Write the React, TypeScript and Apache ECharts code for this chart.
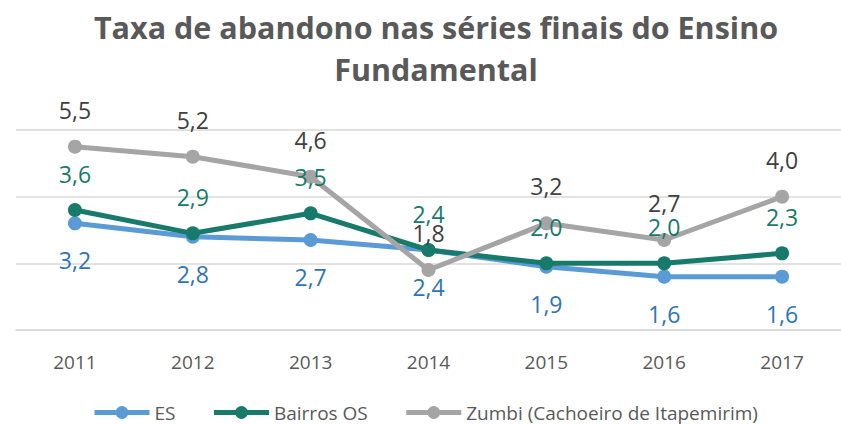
import React, { useEffect, useRef } from "react";
import * as echarts from "echarts";

const categories = ["2011", "2012", "2013", "2014", "2015", "2016", "2017"];
const esValues = [3.2, 2.8, 2.7, 2.4, 1.9, 1.6, 1.6];
const bairrosValues = [3.6, 2.9, 3.5, 2.4, 2.0, 2.0, 2.3];
const zumbiValues = [5.5, 5.2, 4.6, 1.8, 3.2, 2.7, 4.0];
const seriesNames = ["ES", "Bairros OS", "Zumbi (Cachoeiro de Itapemirim)"];
const titleText = "Taxa de abandono nas séries finais do Ensino\nFundamental";

const FONT = "'Open Sans', 'Noto Sans', sans-serif";

const fmt = (p: any) => Number(p.value).toFixed(1).replace(".", ",");

export default function App() {
  const ref = useRef<HTMLDivElement>(null);
  useEffect(() => {
    if (!ref.current) return;
    const chart = echarts.init(ref.current, undefined, { renderer: "svg" });
    const lineSeries = (name: string, data: number[], color: string, z: number) => ({
      name,
      type: "line",
      data,
      z,
      symbol: "circle",
      symbolSize: 14,
      lineStyle: { width: 5, color },
      itemStyle: { color },
      label: { show: false },
    });
    const labelSeries = (name: string, data: number[], labelColor: string, pos: string, dist: number) => ({
      name,
      type: "line",
      data,
      z: 10,
      symbol: "circle",
      symbolSize: 1,
      itemStyle: { color: "rgba(0,0,0,0)", borderWidth: 0 },
      lineStyle: { color: "rgba(0,0,0,0)", width: 0 },
      silent: true,
      label: {
        show: true,
        position: pos,
        distance: dist,
        formatter: fmt,
        fontFamily: FONT,
        fontSize: 23,
        color: labelColor,
      },
    });
    chart.setOption({
      animation: false,
      graphic: [
        {
          type: "text",
          x: 436,
          y: 6,
          style: {
            text: titleText,
            textAlign: "center",
            textVerticalAlign: "top",
            fontFamily: FONT,
            fontWeight: "bold",
            fontSize: 30.5,
            lineHeight: 42,
            fill: "#595959",
          },
        },
      ],
      legend: {
        top: 398,
        left: 87,
        itemWidth: 55,
        itemHeight: 16,
        itemGap: 36,
        lineStyle: { width: 5 },
        textStyle: { fontFamily: FONT, fontSize: 19, color: "#595959" },
        data: seriesNames,
      },
      grid: { left: 16, top: 130, width: 843, bottom: 94, containLabel: false },
      xAxis: {
        type: "category",
        data: categories,
        boundaryGap: true,
        axisLine: { show: true, lineStyle: { color: "#D9D9D9", width: 1.5 } },
        axisTick: { show: false },
        axisLabel: { fontFamily: FONT, fontSize: 19, color: "#595959", margin: 22 },
      },
      yAxis: {
        type: "value",
        min: 0,
        max: 6,
        interval: 2,
        axisLabel: { show: false },
        axisLine: { show: false },
        axisTick: { show: false },
        splitLine: { lineStyle: { color: "#D9D9D9", width: 1.5 } },
      },
      series: [
        lineSeries(seriesNames[0], esValues, "#5B9BD5", 2),
        lineSeries(seriesNames[1], bairrosValues, "#177A6A", 3),
        lineSeries(seriesNames[2], zumbiValues, "#A5A5A5", 4),
        labelSeries("ES rótulos", esValues, "#2E75B6", "bottom", 25),
        labelSeries("Bairros OS rótulos", bairrosValues, "#177A6A", "top", 24),
        labelSeries("Zumbi rótulos", zumbiValues, "#404040", "top", 25),
      ],
    });
    return () => chart.dispose();
  }, []);
  return (
    <div
      ref={ref}
      style={{ position: "fixed", left: 0, top: 0, width: 841, height: 424, background: "#fff" }}
    />
  );
}
